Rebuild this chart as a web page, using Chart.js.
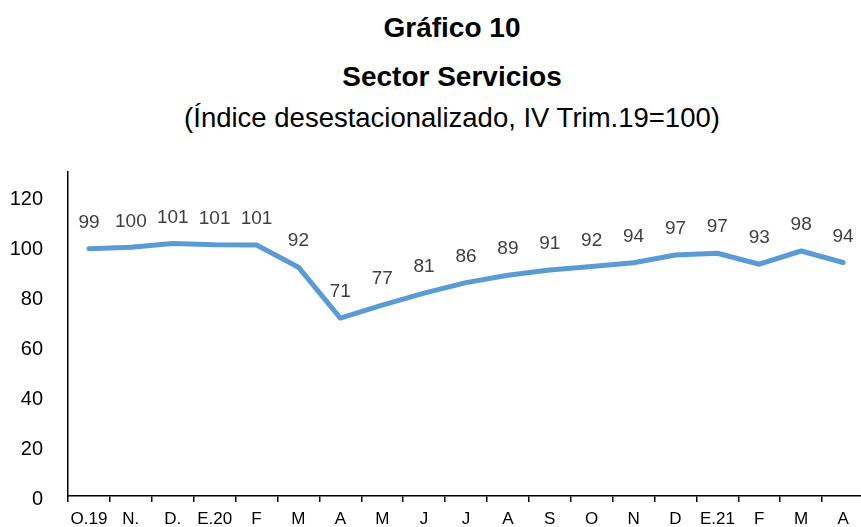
<!DOCTYPE html>
<html>
<head>
<meta charset="utf-8">
<script src="https://cdn.jsdelivr.net/npm/chart.js@4"></script>
<style>
  html, body { margin: 0; padding: 0; background: #ffffff; overflow: hidden; }
  body { width: 861px; height: 527px; position: relative; font-family: "Liberation Sans", Arial, sans-serif; }
  .t { position: absolute; left: 0; width: 904px; text-align: center; color: #000; white-space: nowrap; }
  #t1 { top: 12px; font-size: 28px; font-weight: bold; }
  #t2 { top: 61px; font-size: 28px; font-weight: bold; }
  #t3 { top: 102px; font-size: 27.5px; }
  #wrap { position: absolute; left: 0; top: 0; width: 866px; height: 527px; }
</style>
</head>
<body>
<div class="t" id="t1">Gráfico 10</div>
<div class="t" id="t2">Sector Servicios</div>
<div class="t" id="t3">(Índice desestacionalizado, IV Trim.19=100)</div>
<div id="wrap"><canvas id="c" width="866" height="527"></canvas></div>
<script>
const categories = ["O.19", "N.", "D.", "E.20", "F", "M", "A", "M", "J", "J", "A", "S", "O", "N", "D", "E.21", "F", "M", "A"];
const serviceIndex = [99.2, 99.8, 101.3, 100.8, 100.7, 91.8, 71.4, 76.6, 81.4, 85.6, 88.6, 90.7, 92.1, 93.6, 96.7, 97.4, 93.0, 98.3, 93.7];
const yTicks = [0, 20, 40, 60, 80, 100, 120];

const dataLabels = {
  id: 'dataLabels',
  afterDatasetsDraw(chart) {
    const ctx = chart.ctx;
    const meta = chart.getDatasetMeta(0);
    ctx.save();
    ctx.font = '19px "Liberation Sans", Arial, sans-serif';
    ctx.fillStyle = '#404040';
    ctx.textAlign = 'center';
    ctx.textBaseline = 'middle';
    meta.data.forEach((pt, i) => {
      ctx.fillText(String(Math.round(serviceIndex[i])), pt.x, pt.y - 26);
    });
    ctx.restore();
  }
};

new Chart(document.getElementById('c'), {
  type: 'line',
  data: {
    labels: categories,
    datasets: [{
      data: serviceIndex,
      borderColor: '#5B9BD5',
      borderWidth: 5,
      borderCapStyle: 'round',
      borderJoinStyle: 'round',
      pointRadius: 0,
      tension: 0,
      fill: false
    }]
  },
  options: {
    responsive: false,
    animation: false,
    layout: { padding: { top: 172, left: 0, right: 2, bottom: 0 } },
    plugins: { legend: { display: false }, tooltip: { enabled: false } },
    scales: {
      x: {
        offset: true,
        grid: { display: true, offset: true, drawOnChartArea: false, drawTicks: true, tickLength: 6, color: '#000', lineWidth: 1.5 },
        border: { display: true, color: '#000', width: 1.5 },
        ticks: { color: '#000', font: { family: '"Liberation Sans", Arial, sans-serif', size: 17 }, padding: 7, maxRotation: 0, autoSkip: false },
        afterFit(scale) { scale.height = 31; }
      },
      y: {
        min: 0,
        max: 130,
        grid: { display: false },
        border: { display: true, color: '#000', width: 1.5 },
        ticks: { stepSize: 20, color: '#000', font: { family: '"Liberation Sans", Arial, sans-serif', size: 20 }, padding: 17, labelOffset: 3 },
        afterBuildTicks(scale) { scale.ticks = yTicks.map(v => ({ value: v })); },
        afterFit(scale) { scale.width = 68; }
      }
    }
  },
  plugins: [dataLabels]
});
</script>
</body>
</html>
